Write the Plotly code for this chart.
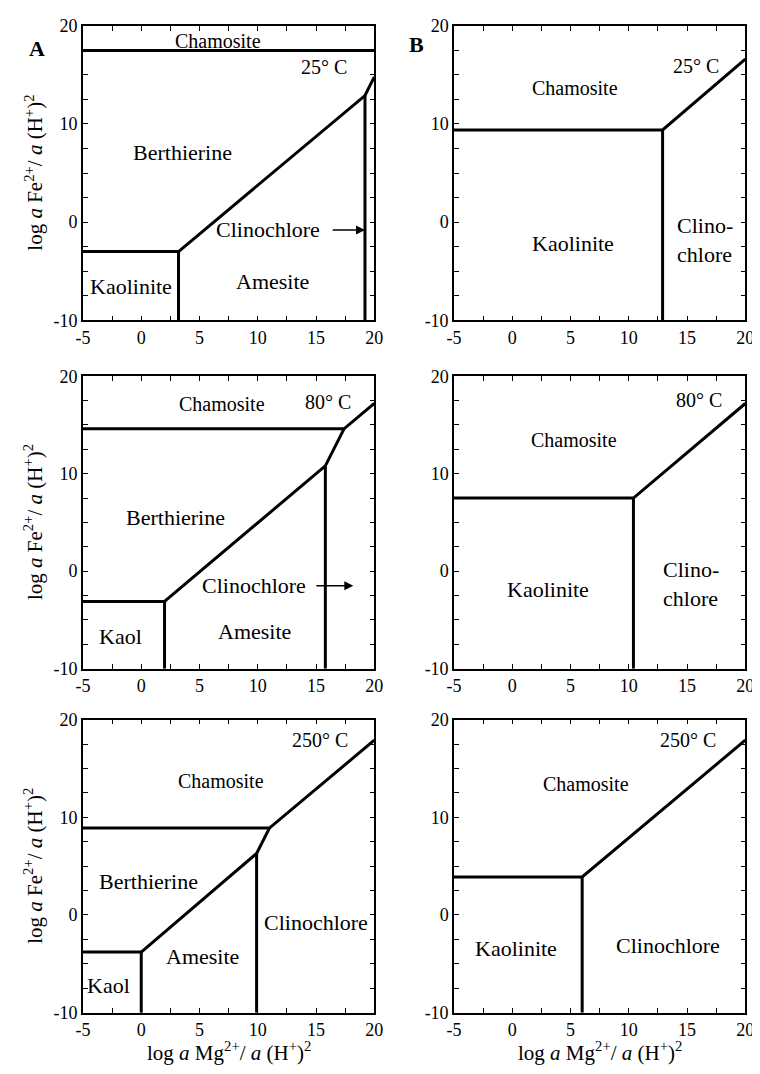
import plotly.graph_objects as go

# ---------------- data ----------------
X_TICKS = [-5, 0, 5, 10, 15, 20]
X_LABELS = ["-5", "0", "5", "10", "15", "20"]
X_MINOR = [-2.5, 2.5, 7.5, 12.5, 17.5]
Y_TICKS = [-10, 0, 10, 20]
Y_LABELS = ["-10", "0", "10", "20"]
Y_MINOR = [-7.5, -5, -2.5, 2.5, 5, 7.5, 12.5, 15, 17.5]

# phase boundaries, each as (x list, y list)
A25_LINES = [
    ([-5, 20], [17.5, 17.5]),
    ([-5, 3.2, 3.2], [-3.0, -3.0, -10]),
    ([3.2, 19.2, 20], [-3.0, 12.9, 14.8]),
    ([19.2, 19.2], [12.9, -10]),
]
B25_LINES = [
    ([-5, 12.9, 20], [9.4, 9.4, 16.6]),
    ([12.9, 12.9], [9.4, -10]),
]
A80_LINES = [
    ([-5, 17.4, 20], [14.6, 14.6, 17.2]),
    ([17.4, 15.8, 2.0], [14.6, 10.8, -3.1]),
    ([15.8, 15.8], [10.8, -10]),
    ([-5, 2.0, 2.0], [-3.1, -3.1, -10]),
]
B80_LINES = [
    ([-5, 10.4, 20], [7.5, 7.5, 17.2]),
    ([10.4, 10.4], [7.5, -10]),
]
A250_LINES = [
    ([-5, 11.0, 20], [8.9, 8.9, 17.9]),
    ([11.0, 9.9, 0.0], [8.9, 6.3, -3.8]),
    ([9.9, 9.9], [6.3, -10]),
    ([-5, 0.0, 0.0], [-3.8, -3.8, -10]),
]
B250_LINES = [
    ([-5, 6.0, 20], [3.9, 3.9, 17.9]),
    ([6.0, 6.0], [3.9, -10]),
]

# field labels (text, x, y)
A25_LABELS = [("Chamosite", 6.6, 18.5), ("25° C", 15.7, 15.8), ("Berthierine", 3.5, 7.1),
              ("Clinochlore", 10.9, -0.8), ("Kaolinite", -0.9, -6.6), ("Amesite", 11.3, -6.0)]
B25_LABELS = [("Chamosite", 5.4, 13.7), ("25° C", 15.8, 15.9), ("Kaolinite", 5.2, -2.2)]
A80_LABELS = [("Chamosite", 6.9, 17.2), ("80° C", 16.0, 17.4), ("Berthierine", 2.9, 5.5),
              ("Clinochlore", 9.7, -1.5), ("Kaol", -1.8, -6.7), ("Amesite", 9.7, -6.15)]
B80_LABELS = [("Chamosite", 5.3, 13.5), ("80° C", 16.0, 17.6), ("Kaolinite", 3.05, -1.85)]
A250_LABELS = [("Chamosite", 6.85, 13.7), ("250° C", 15.3, 17.9), ("Berthierine", 0.6, 3.4),
               ("Clinochlore", 15.0, -0.8), ("Amesite", 5.3, -4.3), ("Kaol", -2.8, -7.2)]
B250_LABELS = [("Chamosite", 6.3, 13.4), ("250° C", 15.1, 17.9), ("Kaolinite", 0.3, -3.4),
               ("Clinochlore", 13.4, -3.15)]

# two-line "Clino-/chlore" labels (left edge x, centre y)
B25_CLINO = (14.0, -1.8)
B80_CLINO = (12.8, -1.35)

# arrows pointing at the thin clinochlore field (tail x, head x, y)
A25_ARROW = (16.3, 19.2, -0.8)
A80_ARROW = (14.9, 18.2, -1.5)

PANELS = [A25_LINES, B25_LINES, A80_LINES, B80_LINES, A250_LINES, B250_LINES]
LABELS = [A25_LABELS, B25_LABELS, A80_LABELS, B80_LABELS, A250_LABELS, B250_LABELS]

# ---------------- layout geometry ----------------
W, H = 760, 1074
OFF = 8  # page body margin offsets the figure by 8px
COLS = [(76.5, 374.5), (456, 754)]
ROWS = [(16, 316), (373, 671), (723, 1021.5)]
FONT = "Liberation Serif, Times New Roman, serif"


def px_x(p):
    return (p - OFF) / W


def px_y(p):
    return 1 - (p - OFF) / H


fig = go.Figure()
layout = dict(width=W, height=H, margin=dict(l=0, r=0, t=0, b=0),
              paper_bgcolor="white", plot_bgcolor="white", showlegend=False,
              font=dict(family=FONT, color="black"))
annotations = []

for i in range(6):
    r, c = divmod(i, 2)
    n = i + 1
    xs = "" if n == 1 else str(n)
    x0, x1 = COLS[c]
    y0, y1 = ROWS[r]
    common = dict(showgrid=False, zeroline=False, showline=True, linecolor="black",
                  linewidth=1.5, mirror="allticks", ticks="inside", ticklen=5,
                  tickwidth=1, tickcolor="black", tickfont=dict(family=FONT, size=18, color="black"),
                  tickmode="array", fixedrange=True)
    layout["xaxis" + xs] = dict(common, domain=[px_x(x0), px_x(x1)], range=[-5, 20],
                                tickvals=X_TICKS, ticktext=X_LABELS, anchor="y" + xs,
                                minor=dict(tickmode="array", tickvals=X_MINOR, ticks="inside",
                                           ticklen=5, tickwidth=1, tickcolor="black", showgrid=False))
    layout["yaxis" + xs] = dict(common, domain=[px_y(y1), px_y(y0)], range=[-10, 20],
                                tickvals=Y_TICKS, ticktext=Y_LABELS, anchor="x" + xs,
                                minor=dict(tickmode="array", tickvals=Y_MINOR, ticks="inside",
                                           ticklen=5, tickwidth=1, tickcolor="black", showgrid=False))
    for lx, ly in PANELS[i]:
        fig.add_trace(go.Scatter(x=lx, y=ly, mode="lines", xaxis="x" + xs, yaxis="y" + xs,
                                 line=dict(color="black", width=3), hoverinfo="skip"))
    for txt, tx, ty in LABELS[i]:
        size = 20 if ("°" in txt) or txt == "Chamosite" else 22
        annotations.append(dict(text=txt, x=tx, y=ty, xref="x" + xs, yref="y" + xs,
                                showarrow=False, font=dict(family=FONT, size=size)))

# two-line labels
for n, (cx, cy) in ((2, B25_CLINO), (4, B80_CLINO)):
    annotations.append(dict(text="Clino-<br>chlore", x=cx, y=cy, xref="x%d" % n, yref="y%d" % n,
                            xanchor="left", align="left", showarrow=False,
                            font=dict(family=FONT, size=22)))

# arrows
for n, (tx0, tx1, ay) in ((1, A25_ARROW), (3, A80_ARROW)):
    xs = "" if n == 1 else str(n)
    annotations.append(dict(text="", x=tx1, y=ay, ax=tx0, ay=ay, xref="x" + xs, yref="y" + xs,
                            axref="x" + xs, ayref="y" + xs, showarrow=True, arrowhead=2,
                            arrowsize=1.2, arrowwidth=1.5, arrowcolor="black"))

# axis titles
ytitle = "log <i>a</i> Fe<sup>2+</sup>/ <i>a</i> (H<sup>+</sup>)<sup>2</sup>"
xtitle = "log <i>a</i> Mg<sup>2+</sup>/ <i>a</i> (H<sup>+</sup>)<sup>2</sup>"
for (y0, y1) in ROWS:
    annotations.append(dict(text=ytitle, x=px_x(26), y=px_y((y0 + y1) / 2), xref="paper",
                            yref="paper", textangle=-90, showarrow=False, xanchor="center",
                            yanchor="middle", font=dict(family=FONT, size=21)))
for (x0, x1) in COLS:
    annotations.append(dict(text=xtitle, x=px_x((x0 + x1) / 2), y=px_y(1061), xref="paper",
                            yref="paper", showarrow=False, xanchor="center", yanchor="middle",
                            font=dict(family=FONT, size=21)))

# panel letters
annotations.append(dict(text="<b>A</b>", x=px_x(19), y=px_y(24), xref="paper", yref="paper",
                        showarrow=False, font=dict(family=FONT, size=22)))
annotations.append(dict(text="<b>B</b>", x=px_x(418), y=px_y(20), xref="paper", yref="paper",
                        showarrow=False, font=dict(family=FONT, size=22)))

layout["annotations"] = annotations
fig.update_layout(**layout)
fig.write_html("out.html")
